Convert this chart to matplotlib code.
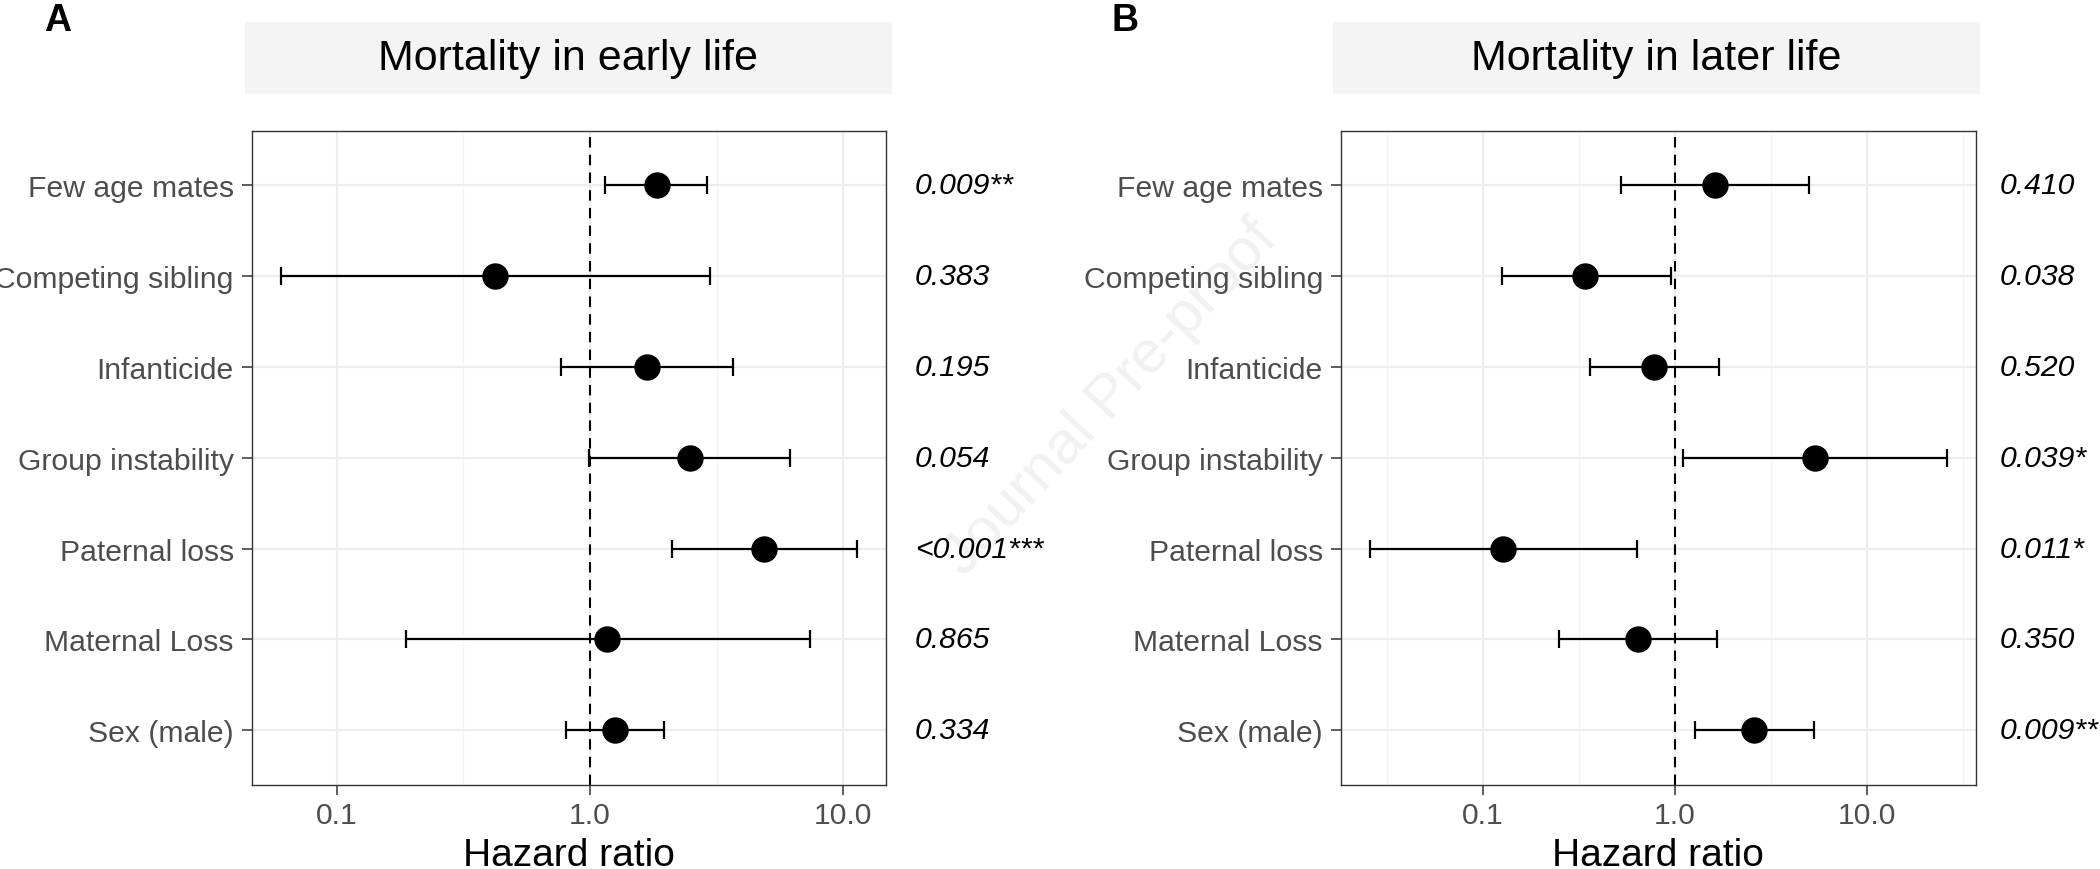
import numpy as np
import matplotlib
matplotlib.use("Agg")
import matplotlib.pyplot as plt
from matplotlib.patches import Rectangle
from matplotlib.ticker import FixedLocator, NullFormatter

plt.rcParams['font.family'] = ['Liberation Sans', 'DejaVu Sans']

# ---------------- data ----------------
predictors = ["Few age mates", "Competing sibling", "Infanticide", "Group instability",
              "Paternal loss", "Maternal Loss", "Sex (male)"]

early_hr = [1.83, 0.42, 1.67, 2.47, 4.88, 1.17, 1.25]
early_lo = [1.15, 0.060, 0.77, 0.99, 2.10, 0.187, 0.80]
early_hi = [2.89, 2.97, 3.68, 6.17, 11.3, 7.38, 1.95]
early_p = ["0.009**", "0.383", "0.195", "0.054", "<0.001***", "0.865", "0.334"]

later_hr = [1.62, 0.341, 0.779, 5.36, 0.127, 0.643, 2.58]
later_lo = [0.526, 0.126, 0.360, 1.10, 0.0258, 0.249, 1.27]
later_hi = [4.99, 0.953, 1.69, 26.0, 0.632, 1.66, 5.27]
later_p = ["0.410", "0.038", "0.520", "0.039*", "0.011*", "0.350", "0.009**"]

titles = ["Mortality in early life", "Mortality in later life"]
panel_tags = ["A", "B"]
x_ticks = [0.1, 1.0, 10.0]
x_ticklabels = ["0.1", "1.0", "10.0"]
x_label = "Hazard ratio"
watermark = "Journal Pre-proof"

# ---------------- layout ----------------
W, H = 2100, 870
fig = plt.figure(figsize=(W / 100, H / 100), dpi=100)
fig.patch.set_facecolor("white")

def fx(px):
    return px / W

def fy(py):
    return 1 - py / H

ax_top, ax_bot = 132, 785.5
panels = [
    dict(left=251.7, right=885.7, strip=(245, 892), tag_x=44, p_x=915,
         hr=early_hr, lo=early_lo, hi=early_hi, p=early_p),
    dict(left=1340.8, right=1975.7, strip=(1333, 1980), tag_x=1111, p_x=2000,
         hr=later_hr, lo=later_lo, hi=later_hi, p=later_p),
]

grey30 = "#4D4D4D"
grey20 = "#333333"
tick_fs = 21.7
n = len(predictors)
ypos = np.arange(n)[::-1] + 1  # top row = n

# faint watermark, behind everything
fig.text(fx(1110), fy(398), watermark, rotation=47, fontsize=43,
         color="#F1F1F1", ha="center", va="center", zorder=-5)

for i, pnl in enumerate(panels):
    ax = fig.add_axes([fx(pnl["left"]), fy(ax_bot), fx(pnl["right"] - pnl["left"]),
                       (ax_bot - ax_top) / H])
    ax.set_facecolor("none")
    hr = np.array(pnl["hr"])
    lo = np.array(pnl["lo"])
    hi = np.array(pnl["hi"])

    ax.set_xscale("log")
    lmin, lmax = np.log10(lo.min()), np.log10(hi.max())
    pad = 0.05 * (lmax - lmin)
    ax.set_xlim(10 ** (lmin - pad), 10 ** (lmax + pad))
    ax.set_ylim(0.4, n + 0.6)

    # grid
    ax.xaxis.set_major_locator(FixedLocator(x_ticks))
    ax.set_xticklabels(x_ticklabels)
    minors = [10 ** k for k in (-1.5, -0.5, 0.5, 1.5)]
    ax.xaxis.set_minor_locator(FixedLocator(minors))
    ax.xaxis.set_minor_formatter(NullFormatter())
    ax.grid(True, which="major", axis="both", color="#EDEDED", lw=1.6, zorder=0)
    ax.grid(True, which="minor", axis="x", color="#F5F5F5", lw=0.9, zorder=0)
    ax.set_axisbelow(True)

    ax.set_yticks(ypos)
    ax.set_yticklabels(predictors)

    ax.axvline(1.0, color="black", lw=1.5, ls=(0, (5, 3.5)), zorder=2)
    ax.errorbar(hr, ypos, xerr=[hr - lo, hi - hr], fmt="o", color="black",
                ecolor="black", elinewidth=1.6, capsize=6.8, capthick=1.6,
                markersize=18, zorder=3)

    for s in ax.spines.values():
        s.set_color(grey20)
        s.set_linewidth(1.0)

    ax.tick_params(axis="both", which="major", length=7.5, width=1.1, color=grey20,
                   labelsize=tick_fs, labelcolor=grey30)
    ax.tick_params(axis="x", which="major", pad=4.5)
    ax.tick_params(axis="y", which="major", pad=5.4)
    ax.tick_params(axis="x", which="minor", length=0)

    # strip
    s0, s1 = pnl["strip"]
    fig.patches.append(Rectangle((fx(s0), fy(95)), fx(s1 - s0), (95 - 23) / H,
                                 transform=fig.transFigure, facecolor="#F4F4F4",
                                 edgecolor="none", zorder=-10))
    fig.text(fx((s0 + s1) / 2), fy(59), titles[i], fontsize=31, color="black",
             ha="center", va="center")

    # panel tag
    fig.text(fx(pnl["tag_x"]), fy(3), panel_tags[i], fontsize=27, fontweight="bold",
             ha="left", va="top")

    # axis title
    fig.text(fx((pnl["left"] + pnl["right"]) / 2), fy(866), x_label, fontsize=28,
             color="black", ha="center", va="baseline")

    # p-values
    for yy, txt in zip(ypos, pnl["p"]):
        ax.annotate(txt, xy=(fx(pnl["p_x"]), yy), xycoords=("figure fraction", "data"),
                    fontsize=tick_fs, style="italic", color="black",
                    ha="left", va="center", annotation_clip=False)

fig.savefig("out.png", dpi=100)
